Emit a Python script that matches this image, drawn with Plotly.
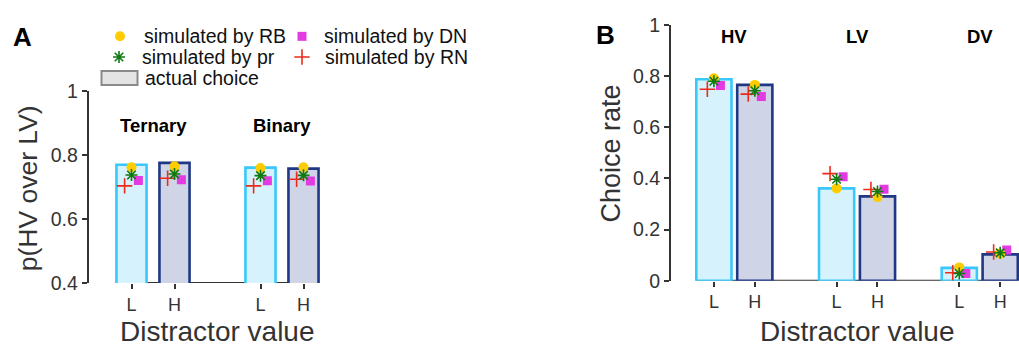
import plotly.graph_objects as go

# ---- data -------------------------------------------------------------
# Panel A: p(HV over LV) by distractor value, ternary vs binary trials
a_pos = [1, 2, 4, 5]
a_ticks = ["L", "H", "L", "H"]
a_actual = [0.769, 0.775, 0.760, 0.757]
a_rb = [0.761, 0.764, 0.759, 0.761]
a_pr = [0.737, 0.740, 0.735, 0.736]
a_dn = [0.720, 0.722, 0.719, 0.718]
a_rn = [0.703, 0.727, 0.703, 0.724]
a_groups = ["Ternary", "Binary"]
a_group_pos = [1.5, 4.5]

# Panel B: choice rate of HV / LV / DV by distractor value
b_pos = [1, 2, 4, 5, 7, 8]
b_ticks = ["L", "H", "L", "H", "L", "H"]
b_actual = [0.788, 0.766, 0.361, 0.330, 0.050, 0.103]
b_rb = [0.792, 0.766, 0.361, 0.327, 0.052, 0.105]
b_pr = [0.780, 0.743, 0.397, 0.349, 0.028, 0.109]
b_dn = [0.764, 0.721, 0.407, 0.358, 0.028, 0.120]
b_rn = [0.749, 0.730, 0.419, 0.357, 0.031, 0.112]
b_groups = ["HV", "LV", "DV"]
b_group_pos = [1.5, 4.5, 7.5]

# ---- style ------------------------------------------------------------
W, H = 1019, 355
FONT = "Liberation Sans"
AX = "#333333"
FILL_L, EDGE_L = "#d6f3fd", "#38c8fb"
FILL_H, EDGE_H = "#cfd5e6", "#1f3784"
C_RB, C_DN, C_PR, C_RN = "#ffcc00", "#e23be2", "#0f7a0f", "#ee2a1a"
OFF = 0.16

MK_RB = dict(symbol="circle", size=10, color=C_RB)
MK_DN = dict(symbol="square", size=9, color=C_DN)
MK_PR = dict(symbol="asterisk-open", size=10, color=C_PR, line=dict(color=C_PR, width=1.6))
MK_RN = dict(symbol="cross-thin-open", size=11, color=C_RN, line=dict(color=C_RN, width=1.6))


def px_x(p):
    return p / W


def px_y(p):
    return 1 - p / H


fig = go.Figure()


def add_panel(pos, actual, rb, pr, dn, rn, xa, ya, width):
    fills = [FILL_L if i % 2 == 0 else FILL_H for i in range(len(pos))]
    edges = [EDGE_L if i % 2 == 0 else EDGE_H for i in range(len(pos))]
    fig.add_trace(go.Bar(x=pos, y=actual, width=width, xaxis=xa, yaxis=ya,
                         marker=dict(color=fills, line=dict(color=edges, width=2.6)),
                         showlegend=False))
    fig.add_trace(go.Scatter(x=[p - OFF for p in pos], y=rn, mode="markers",
                             xaxis=xa, yaxis=ya, marker=MK_RN, showlegend=False))
    fig.add_trace(go.Scatter(x=[p + OFF for p in pos], y=dn, mode="markers",
                             xaxis=xa, yaxis=ya, marker=MK_DN, showlegend=False))
    fig.add_trace(go.Scatter(x=pos, y=rb, mode="markers",
                             xaxis=xa, yaxis=ya, marker=MK_RB, showlegend=False))
    fig.add_trace(go.Scatter(x=pos, y=pr, mode="markers",
                             xaxis=xa, yaxis=ya, marker=MK_PR, showlegend=False))


A_W, B_W = 0.70, 0.86
add_panel(a_pos, a_actual, a_rb, a_pr, a_dn, a_rn, "x", "y", A_W)
add_panel(b_pos, b_actual, b_rb, b_pr, b_dn, b_rn, "x2", "y2", B_W)

# legend keys on a full-page overlay axis (pixel units)
leg_keys = [(120, 27, MK_RB), (302, 27, MK_DN), (119, 49, MK_PR), (302, 49, MK_RN)]
for kx, ky, mk in leg_keys:
    fig.add_trace(go.Scatter(x=[kx], y=[ky], mode="markers", xaxis="x3", yaxis="y3",
                             marker=mk, showlegend=False))

common_y = dict(showline=True, linecolor=AX, linewidth=1.5, ticks="outside", ticklen=5,
                tickwidth=1.5, tickcolor=AX, showgrid=False, zeroline=False,
                tickfont=dict(family=FONT, size=19.5, color=AX))
common_x = dict(showline=False, ticks="outside", ticklen=5, tickwidth=1.5, tickcolor=AX,
                showgrid=False, zeroline=False,
                tickfont=dict(family=FONT, size=18, color=AX))

fig.update_layout(
    width=W, height=H, margin=dict(l=0, r=0, t=0, b=0),
    paper_bgcolor="white", plot_bgcolor="rgba(0,0,0,0)",
    font=dict(family=FONT, color=AX),
    xaxis=dict(domain=[px_x(88.5), px_x(330)], range=[0, 241.5 / 43], anchor="y",
               tickvals=a_pos, ticktext=a_ticks, **common_x),
    yaxis=dict(domain=[px_y(290), px_y(85)], range=[0.4, 1], anchor="x",
               tickvals=[0.4, 0.6, 0.8, 1], ticktext=["0.4", "0.6", "0.8", "1"], **common_y),
    xaxis2=dict(domain=[px_x(670.7), 1], range=[-0.056, 8.46], anchor="y2",
                tickvals=b_pos, ticktext=b_ticks, **common_x),
    yaxis2=dict(domain=[px_y(287.5), px_y(15)], range=[0, 1], anchor="x2",
                tickvals=[0, 0.2, 0.4, 0.6, 0.8, 1],
                ticktext=["0", "0.2", "0.4", "0.6", "0.8", "1"], **common_y),
    xaxis3=dict(domain=[0, 1], range=[0, W], visible=False, anchor="y3", fixedrange=True),
    yaxis3=dict(domain=[0, 1], range=[H, 0], visible=False, anchor="x3", fixedrange=True),
    showlegend=False,
)

shapes = [
    # baselines spanning the bars
    dict(type="line", xref="x", yref="y", x0=a_pos[0] - A_W / 2, x1=a_pos[-1] + A_W / 2,
         y0=0.4, y1=0.4, line=dict(color=AX, width=2), layer="below"),
    dict(type="line", xref="x2", yref="y2", x0=b_pos[0] - B_W / 2, x1=b_pos[-1] + B_W / 2,
         y0=0, y1=0, line=dict(color=AX, width=2), layer="below"),
    # legend key for the bars
    dict(type="rect", xref="paper", yref="paper", x0=px_x(101.5), x1=px_x(137.5),
         y0=px_y(79), y1=px_y(64), fillcolor="#e4e4e4", line=dict(color="#8a8a8a", width=2)),
]

ann = []


def text(x, y, s, size, bold=False, color=AX, xanchor="center", angle=0,
         xref="paper", yref="paper"):
    ann.append(dict(x=x, y=y, xref=xref, yref=yref, text=f"<b>{s}</b>" if bold else s,
                    showarrow=False, xanchor=xanchor, yanchor="middle", textangle=angle,
                    font=dict(family=FONT, size=size, color=color)))


# legend labels
for lx, ly, s in [(142, 27, "simulated by RB"), (322, 27, "simulated by DN"),
                  (140, 49, "simulated by pr"), (323, 49, "simulated by RN"),
                  (143, 71, "actual choice")]:
    text(px_x(lx), px_y(ly), s, 19.5, color="#111", xanchor="left")

# panel letters
text(px_x(22), px_y(27.5), "A", 26, bold=True, color="black")
text(px_x(605), px_y(26), "B", 26, bold=True, color="black")

# group labels
for g, gx in zip(a_groups, a_group_pos):
    text(gx, 0.893, g, 18.5, bold=True, color="black", xref="x", yref="y")
for g, gx in zip(b_groups, b_group_pos):
    text(gx, 0.956, g, 18.5, bold=True, color="black", xref="x2", yref="y2")

# axis titles
text(px_x(28), px_y(189), "p(HV over LV)", 26.5, angle=-90)
text(px_x(611), px_y(152), "Choice rate", 27, angle=-90)
text(3, px_y(342), "Distractor value", 28, xref="x")
text(4.5, px_y(342), "Distractor value", 28, xref="x2")

fig.update_layout(shapes=shapes, annotations=ann)
fig.write_html("out.html")
